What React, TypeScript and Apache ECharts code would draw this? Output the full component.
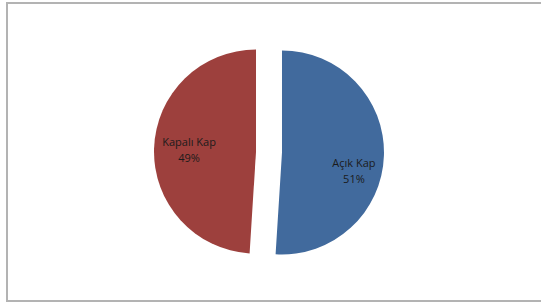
import React, { useEffect, useRef } from "react";
import * as echarts from "echarts";

const categories = ["Açık Kap", "Kapalı Kap"];
const values = [51, 49];
const colors = ["#416A9D", "#9D403D"];

export default function App() {
  const ref = useRef<HTMLDivElement>(null);
  useEffect(() => {
    if (!ref.current) return;
    const chart = echarts.init(ref.current, null, { renderer: "svg" });
    const pads = [
      [0, 0, 0, 36],
      [0, 26, 0, 0],
    ];
    const formats = ["\n\n{b}\n{d}%", "{b}\n{d}%"];
    chart.setOption({
      animation: false,
      backgroundColor: "#ffffff",
      graphic: [
        {
          type: "rect",
          shape: { x: 7, y: 3, width: 545, height: 298 },
          style: { fill: "none", stroke: "#b3b3b3", lineWidth: 2 },
          silent: true,
        },
      ],
      series: [
        {
          type: "pie",
          center: [269, 152],
          radius: 102,
          startAngle: 90,
          clockwise: true,
          selectedMode: "multiple",
          selectedOffset: 13,
          emphasis: { disabled: true },
          itemStyle: { borderWidth: 0 },
          labelLine: { show: false },
          data: categories.map((name, i) => ({
            name,
            value: values[i],
            selected: true,
            itemStyle: { color: colors[i] },
            label: {
              show: true,
              position: "inside",
              formatter: formats[i],
              fontFamily: "Open Sans",
              fontSize: 11,
              lineHeight: 16,
              color: "#1b1b1b",
              align: "center",
              padding: pads[i],
            },
          })),
        },
      ],
    });
    return () => chart.dispose();
  }, []);
  return (
    <div
      ref={ref}
      style={{ position: "fixed", left: 0, top: 0, width: 541, height: 303 }}
    />
  );
}
